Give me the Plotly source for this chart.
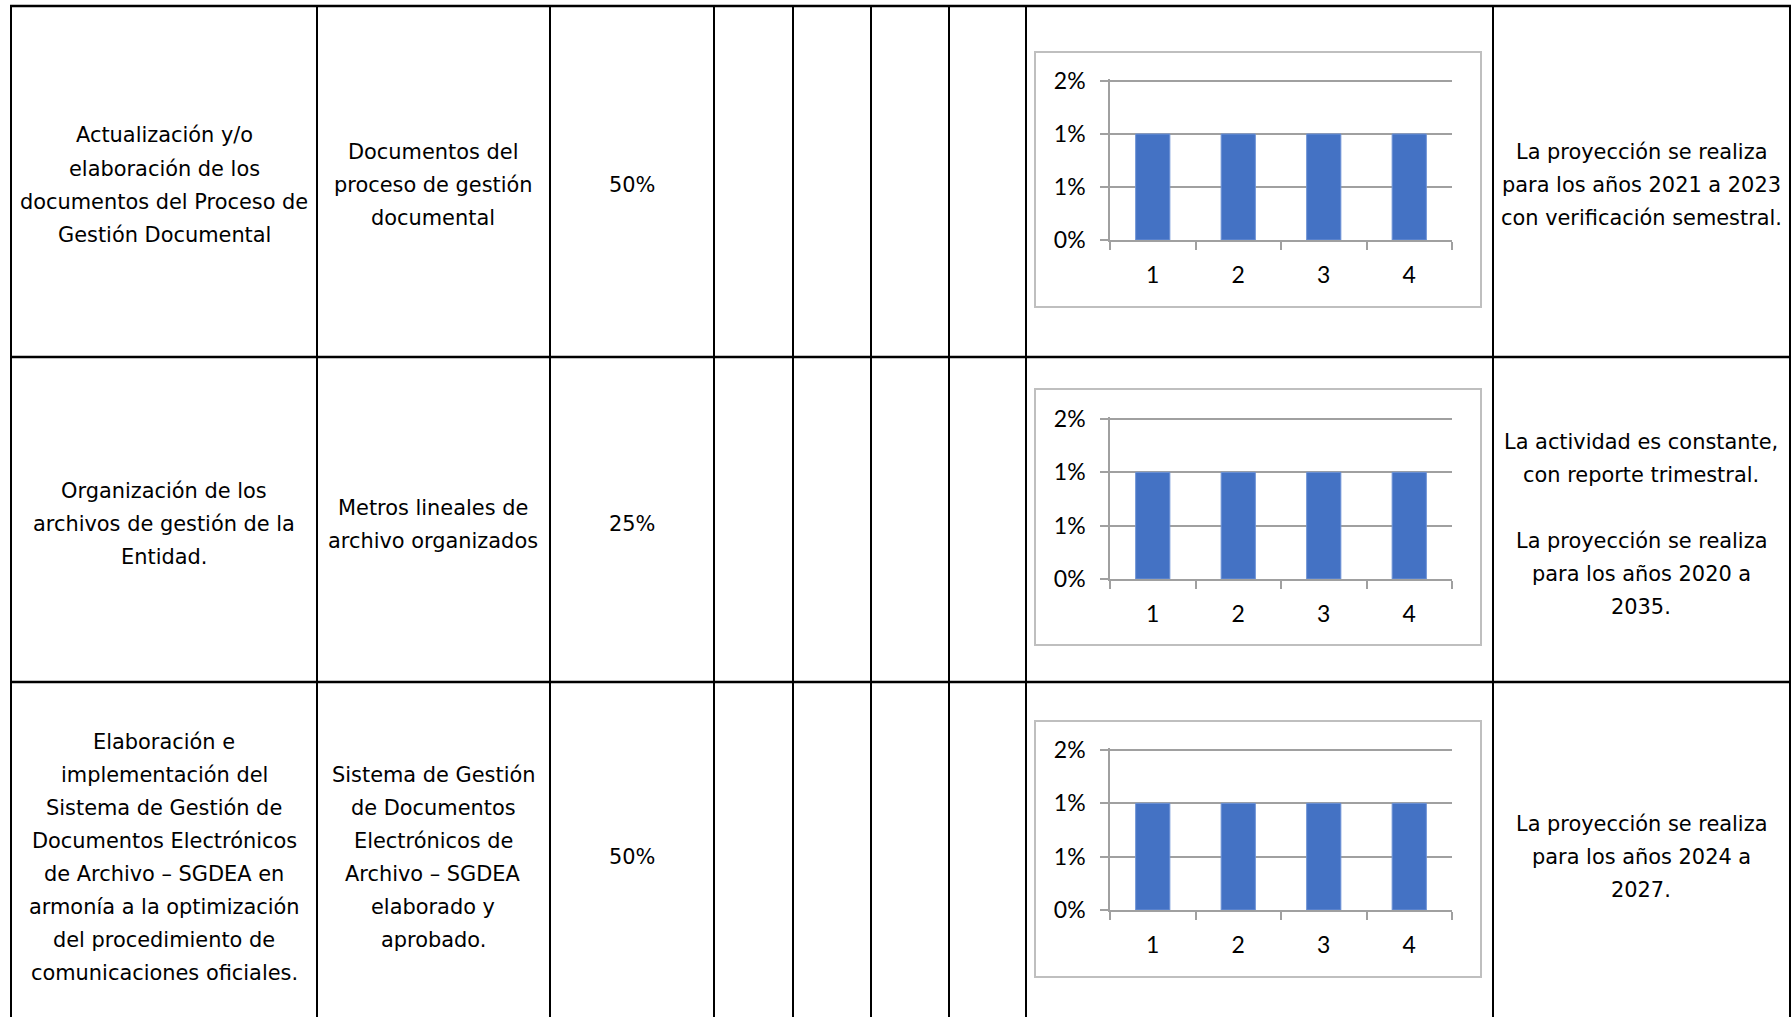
import plotly.graph_objects as go

# ---------------- data ----------------
categories = ["1", "2", "3", "4"]
row1_values = [0.01, 0.01, 0.01, 0.01]
row2_values = [0.01, 0.01, 0.01, 0.01]
row3_values = [0.01, 0.01, 0.01, 0.01]
y_tick_values = [0, 0.005, 0.01, 0.015]
y_tick_labels = ["0%", "1%", "1%", "2%"]

activities = [
    ["Actualización y/o", "elaboración de los", "documentos del Proceso de", "Gestión Documental"],
    ["Organización de los", "archivos de gestión de la", "Entidad."],
    ["Elaboración e", "implementación del", "Sistema de Gestión de", "Documentos Electrónicos",
     "de Archivo – SGDEA en", "armonía a la optimización", "del procedimiento de",
     "comunicaciones oficiales."],
]
indicators = [
    ["Documentos del", "proceso de gestión", "documental"],
    ["Metros lineales de", "archivo organizados"],
    ["Sistema de Gestión", "de Documentos", "Electrónicos de", "Archivo – SGDEA",
     "elaborado y", "aprobado."],
]
weights = ["50%", "25%", "50%"]
notes = [
    ["La proyección se realiza", "para los años 2021 a 2023", "con verificación semestral."],
    ["La actividad es constante,", "con reporte trimestral.", "", "La proyección se realiza",
     "para los años 2020 a", "2035."],
    ["La proyección se realiza", "para los años 2024 a", "2027."],
]
series = [row1_values, row2_values, row3_values]

# ---------------- layout geometry (pixels) ----------------
W, H = 1791, 1017
def px(x):
    return x / W
def py(y):
    return 1 - y / H

col_x = [11, 317, 550, 714, 793, 871, 949, 1026, 1493, 1790]
row_y = [6, 357, 682]
row_center = [185, 524, 857]
line_h = 33
col_center = [164, 433, 632, 1641]
box_y = [(52, 307), (389, 645), (721, 977)]
box_x = (1035, 1481)
plot_x = (1110, 1452)
plot_y = [(81, 240), (419, 579), (750, 910)]
Y_TOP_TICK = 0.015
Y_MAX = 0.0152

TABLE_FONT = dict(family="DejaVu Sans", size=20.9, color="#000000")
CHART_FONT = dict(family="Lato", size=23, color="#000000")
GRID = "#A0A0A0"

fig = go.Figure()
shapes = []
annotations = []

# table lines
for x in col_x:
    shapes.append(dict(type="line", xref="paper", yref="paper",
                       x0=px(x), x1=px(x), y0=py(row_y[0] - 1), y1=py(H + 5),
                       line=dict(color="#000000", width=2)))
for y in row_y:
    shapes.append(dict(type="line", xref="paper", yref="paper",
                       x0=px(col_x[0] - 1), x1=px(col_x[-1] + 1), y0=py(y), y1=py(y),
                       line=dict(color="#000000", width=2.5)))

def add_lines(lines, cx, cy):
    n = len(lines)
    for i, t in enumerate(lines):
        if not t:
            continue
        yy = cy + (i - (n - 1) / 2) * line_h
        annotations.append(dict(text=t, x=px(cx), y=py(yy), xref="paper", yref="paper",
                                showarrow=False, xanchor="center", yanchor="middle",
                                font=TABLE_FONT))

for r in range(3):
    add_lines(activities[r], col_center[0], row_center[r])
    add_lines(indicators[r], col_center[1], row_center[r])
    add_lines([weights[r]], col_center[2], row_center[r])
    add_lines(notes[r], col_center[3], row_center[r])

# charts
for r in range(3):
    b0, b1 = box_y[r]
    shapes.append(dict(type="rect", xref="paper", yref="paper",
                       x0=px(box_x[0]), x1=px(box_x[1]), y0=py(b1), y1=py(b0),
                       line=dict(color="#BFBFBF", width=2), fillcolor="rgba(0,0,0,0)"))
    sfx = "" if r == 0 else str(r + 1)
    fig.add_trace(go.Bar(x=categories, y=series[r], marker=dict(color="#4472C4",
                         line=dict(color="#6E93D6", width=1)),
                         xaxis="x" + sfx, yaxis="y" + sfx, showlegend=False,
                         hoverinfo="skip"))
    t0, t1 = plot_y[r]
    top_px = t0 - (Y_MAX - Y_TOP_TICK) / Y_TOP_TICK * (t1 - t0)
    fig.layout["xaxis" + sfx] = dict(
        domain=[px(plot_x[0]), px(plot_x[1])], anchor="y" + sfx, automargin=False,
        type="category", showgrid=False, showline=True, linecolor=GRID, linewidth=1.5,
        ticks="outside", ticklen=8, tickcolor=GRID, tickwidth=1.5, tickson="boundaries",
        tickfont=CHART_FONT, ticklabelstandoff=14, zeroline=False, fixedrange=True)
    fig.layout["yaxis" + sfx] = dict(
        domain=[py(t1), py(top_px)], anchor="x" + sfx, range=[0, Y_MAX], automargin=False,
        tickvals=y_tick_values, ticktext=y_tick_labels,
        showgrid=True, gridcolor=GRID, gridwidth=1.5, showline=True, linecolor=GRID,
        linewidth=1.5, ticks="outside", ticklen=8, tickcolor=GRID, tickwidth=1.5,
        tickfont=CHART_FONT, ticklabelstandoff=10, zeroline=False, fixedrange=True)

fig.update_layout(
    width=W, height=H, margin=dict(l=0, r=0, t=0, b=0, autoexpand=False),
    paper_bgcolor="white", plot_bgcolor="white",
    bargap=0.6, shapes=shapes, annotations=annotations, showlegend=False,
)

fig.write_html("out.html", config={"displayModeBar": False},
               post_script="document.body.style.margin='0';document.body.style.overflow='hidden';")
